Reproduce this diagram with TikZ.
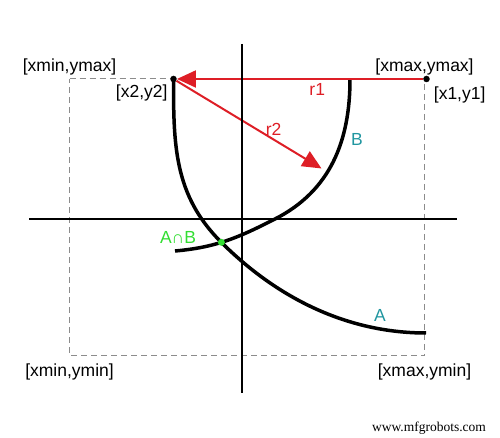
\documentclass[tikz,border=0pt]{standalone}
\usepackage{fontspec}
\setmainfont{Liberation Sans}
\newfontfamily\wmfont{Liberation Serif}
\usetikzlibrary{arrows.meta,intersections}

\definecolor{radred}{RGB}{222,30,38}
\definecolor{curvelbl}{RGB}{32,150,160}
\definecolor{abgreen}{RGB}{50,222,50}
\definecolor{boxgray}{RGB}{140,140,140}

\begin{document}
\begin{tikzpicture}[x=1pt,y=1pt,font=\fontsize{17.5}{20}\selectfont,
    axis/.style={line width=2pt},
    curve/.style={line width=3.5pt},
    bounds/.style={boxgray, line width=1pt, dash pattern=on 6pt off 4pt},
    point/.style={circle, fill, inner sep=0pt, minimum size=6.5pt},
    rarrow/.style={radred, line width=2pt, -{Triangle[length=19pt,width=17pt]}}]
  \useasboundingbox (0,0) rectangle (500,438);
  % search window
  \coordinate[label=above:{[xmin,ymax]}] (tl) at (69.5,359);
  \coordinate[label=above:{[xmax,ymax]}] (tr) at (424.5,359);
  \coordinate[label={[label distance=4pt]below:{[xmin,ymin]}}] (bl) at (69.5,82);
  \coordinate[label={[label distance=4pt]below:{[xmax,ymin]}}] (br) at (424.5,82);
  \draw[bounds] (tl) -- (tr) -- (br) -- (bl) -- cycle;
  % the two points
  \node[point] (P2) [label=below left:{[x2,y2]}] at (173.5,359) {};
  \node[point] (P1) [label={[label distance=2pt]below right:{[x1,y1]}}] at (426.5,359) {};
  % circles A and B
  \coordinate (Amid) at (221,196);
  \coordinate (Aend) at (426,105);
  \coordinate (Btop) at (350,359);
  \coordinate (Bmid) at (275,219);
  \coordinate (Bend) at (175,187);
  \draw[curve, name path=curveA] (P2.center) to[out=-90,in=135] (Amid)
     to[out=-45,in=180,looseness=0.9] (Aend);
  \draw[curve, name path=curveB] (Btop) to[out=-90,in=27] (Bmid)
     to[out=207,in=5] (Bend);
  % radii
  \coordinate (r2tip) at (321.5,269.5);
  \draw[rarrow] (P1) -- (P2) node[pos=0.43, below, text=radred] (r1lbl) {r1};
  \draw[rarrow] (P2) -- (r2tip) node[pos=0.67, above, text=radred] (r2lbl) {r2};
  % axes
  \coordinate (xl) at (29,219);
  \coordinate (xr) at (457,219);
  \coordinate (yt) at (241.5,394);
  \coordinate (yb) at (241.5,45);
  \draw[axis] (xl) -- (xr);
  \draw[axis] (yt) -- (yb);
  % intersection
  \path[name intersections={of=curveA and curveB, by=AB}];
  \node[point, fill=abgreen, minimum size=7pt] (ABdot) at (AB) {};
  \node[text=abgreen] (ABlbl) at (178,201) {A∩B};
  \node[text=curvelbl] (Albl) at (380,123) {A};
  \node[text=curvelbl] (Blbl) at (357,299) {B};
  \node[font=\wmfont\fontsize{13.5}{15}\selectfont] (wm) at (429,10) {www.mfgrobots.com};
\end{tikzpicture}
\end{document}
